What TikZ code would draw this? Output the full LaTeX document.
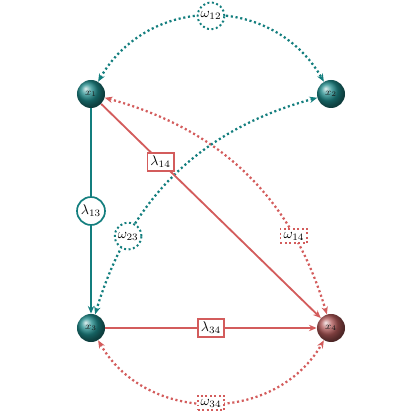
\documentclass[tikz,border=0pt]{standalone}
\usepackage{tikz}
\usetikzlibrary{arrows.meta,backgrounds}
\definecolor{pathTeal}{HTML}{137E7E}
\definecolor{pathRed}{HTML}{D35C5C}
\definecolor{ballTeal}{HTML}{1E8A8A}
\definecolor{ballRed}{HTML}{B05858}
\tikzset{
  varball/.style={circle, ball color=#1, minimum size=0.7cm, inner sep=0pt,
    font=\scriptsize, text=black!90},
  loadlink/.style={-{Stealth[length=5.5pt,width=4.5pt]}, line width=1.3pt, draw=#1},
  covlink/.style={{Stealth[length=5.5pt,width=4.5pt]}-{Stealth[length=5.5pt,width=4.5pt]},
    line width=1.6pt, dash pattern=on 1.5pt off 1.9pt, draw=#1},
  loadcirc/.style={circle, draw=#1, fill=white, line width=1.2pt, inner sep=1.2pt},
  loadbox/.style={rectangle, draw=#1, fill=white, line width=1.2pt, inner sep=2.2pt},
  covcirc/.style={circle, draw=#1, fill=white, line width=1.4pt, inner sep=1.2pt,
    dash pattern=on 1.4pt off 1.8pt},
  covbox/.style={rectangle, draw=#1, fill=white, line width=1.4pt, inner sep=2.2pt,
    dash pattern=on 1.4pt off 1.8pt},
}

\begin{document}
\begin{tikzpicture}[x=0.025cm,y=0.025cm]

% --- geometry ---------------------------------------------------------------
\def\colL{91}    % left column
\def\colR{331}   % right column
\def\rowT{326}   % top row
\def\rowB{92}    % bottom row

\useasboundingbox (0,0) rectangle (420,420);

% --- variables --------------------------------------------------------------
\node[varball=ballTeal] (x1) at (\colL,\rowT) {$x_1$};
\node[varball=ballTeal] (x2) at (\colR,\rowT) {$x_2$};
\node[varball=ballTeal] (x3) at (\colL,\rowB) {$x_3$};
\node[varball=ballRed]  (x4) at (\colR,\rowB) {$x_4$};

% --- covariances (dotted, both ways) ----------------------------------------
\draw[covlink=pathTeal] (x1) to[bend left=60, looseness=1.15]
  node[covcirc=pathTeal] (w12) {$\omega_{12}$} (x2);
\draw[covlink=pathRed] (x3) to[bend right=60, looseness=1.1]
  node[covbox=pathRed] (w34) {$\omega_{34}$} (x4);
\draw[covlink=pathRed] (x1) to[bend left=29]
  node[pos=0.75, covbox=pathRed] (w14) {$\omega_{14}$} (x4);
\draw[covlink=pathTeal] (x2) to[bend right=29]
  node[pos=0.75, covcirc=pathTeal] (w23) {$\omega_{23}$} (x3);

% --- loadings (solid, one way) ----------------------------------------------
\draw[loadlink=pathTeal] (x1) -- node[loadcirc=pathTeal] (l13) {$\lambda_{13}$} (x3);
\draw[loadlink=pathRed] (x1) -- node[pos=0.27, loadbox=pathRed] (l14) {$\lambda_{14}$} (x4);
\draw[loadlink=pathRed] (x3) -- node[loadbox=pathRed] (l34) {$\lambda_{34}$} (x4);

\end{tikzpicture}
\end{document}
